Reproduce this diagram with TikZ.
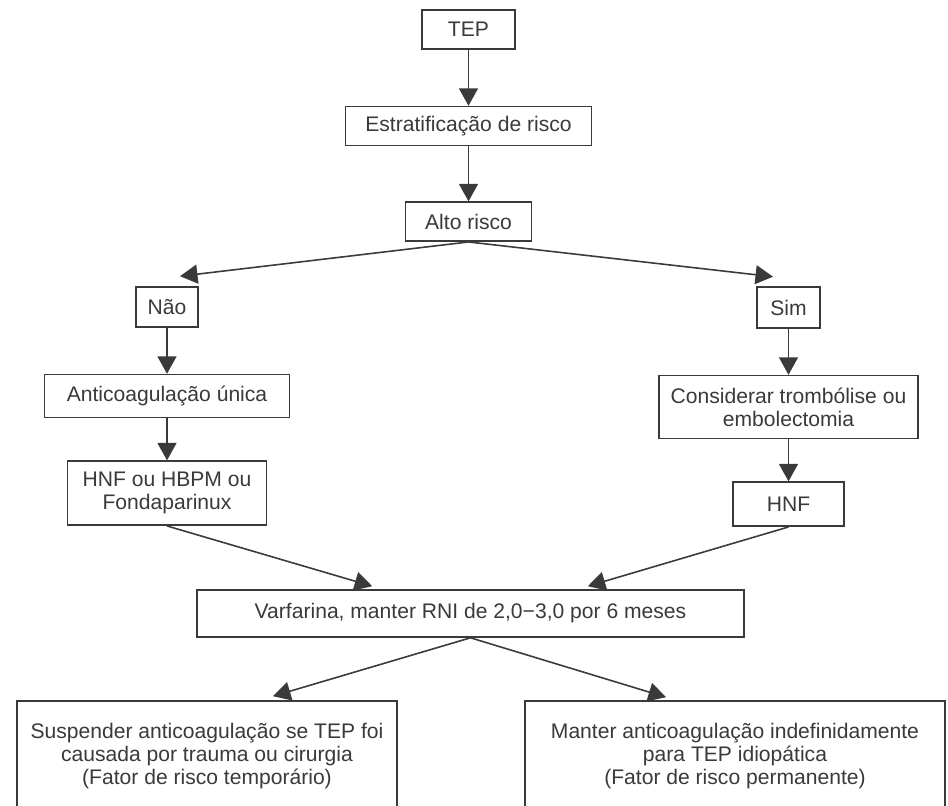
\documentclass[tikz,border=0pt]{standalone}
\usepackage{fontspec}
\setmainfont{Liberation Sans}
\usetikzlibrary{arrows.meta,positioning}
\definecolor{ink}{HTML}{3A3A3A}
\tikzset{box/.style={rectangle,draw=ink,text=ink,fill=white,line width=0.9pt,align=center,inner sep=2pt,font=\fontsize{12}{13}\selectfont},
         flow/.style={draw=ink,line width=0.9pt}
}

\begin{document}
\begin{tikzpicture}[->,>={Triangle[length=3.5mm,width=3.8mm]},
node distance = 1cm]
\useasboundingbox (0,0) rectangle (18.96,-16.1);

% top chain
\node[box,minimum width=1.86cm,minimum height=0.78cm] (0) at (9.37,-0.59) {TEP};
\node[box,minimum width=4.92cm,minimum height=0.78cm,below=1.12cm of 0] (1) {Estratificação de risco};
\node[box,minimum width=2.52cm,minimum height=0.78cm,below=1.1cm of 1] (2) {Alto risco};

% left branch
\node[box,minimum width=1.24cm,minimum height=0.8cm] (3) at (3.34,-6.14) {Não};
\node[box,minimum width=4.9cm,minimum height=0.86cm,below=0.92cm of 3] (5) {Anticoagulação única};
\node[box,minimum width=3.98cm,minimum height=1.28cm,below=0.84cm of 5] (7) {HNF ou HBPM ou\\Fondaparinux};

% right branch
\node[box,minimum width=1.26cm,minimum height=0.82cm] (4) at (15.77,-6.15) {Sim};
\node[box,minimum width=5.18cm,minimum height=1.26cm,below=0.92cm of 4] (6) {Considerar trombólise ou\\embolectomia};
\node[box,minimum width=2.22cm,minimum height=0.88cm,below=0.84cm of 6] (8) {HNF};

% bottom
\node[box,minimum width=10.94cm,minimum height=0.94cm] (9) at (9.41,-12.27) {Varfarina, manter RNI de 2,0−3,0 por 6 meses};
\node[box,minimum width=7.6cm,minimum height=2.2cm] (10) at (4.14,-15.12) {Suspender anticoagulação se TEP foi\\causada por trauma ou cirurgia\\(Fator de risco temporário)};
\node[box,minimum width=8.4cm,minimum height=2.2cm] (11) at (14.7,-15.12) {Manter anticoagulação indefinidamente\\para TEP idiopática\\(Fator de risco permanente)};

% arrow ends
\coordinate (t3) at ([xshift=0.26cm,yshift=0.2cm]3.north);
\coordinate (t4) at ([xshift=-0.31cm,yshift=0.19cm]4.north);
\coordinate (t7) at ([xshift=3.52cm,yshift=0.06cm]9.north west);
\coordinate (t8) at ([xshift=-3.14cm,yshift=0.06cm]9.north east);
\coordinate (t10) at ([xshift=1.32cm,yshift=0.08cm]10.north);
\coordinate (t11) at ([xshift=-1.38cm,yshift=0.06cm]11.north);

\draw[flow] (0) -- (1);
\draw[flow] (1) -- (2);
\draw[flow] (2.south) -- (t3);
\draw[flow] (2.south) -- (t4);
\draw[flow] (3) -- (5);
\draw[flow] (5) -- (7);
\draw[flow] (4) -- (6);
\draw[flow] (6) -- (8);
\draw[flow] (7.south) -- (t7);
\draw[flow] (8.south) -- (t8);
\draw[flow] (9.south) -- (t10);
\draw[flow] (9.south) -- (t11);
\end{tikzpicture}
\end{document}
